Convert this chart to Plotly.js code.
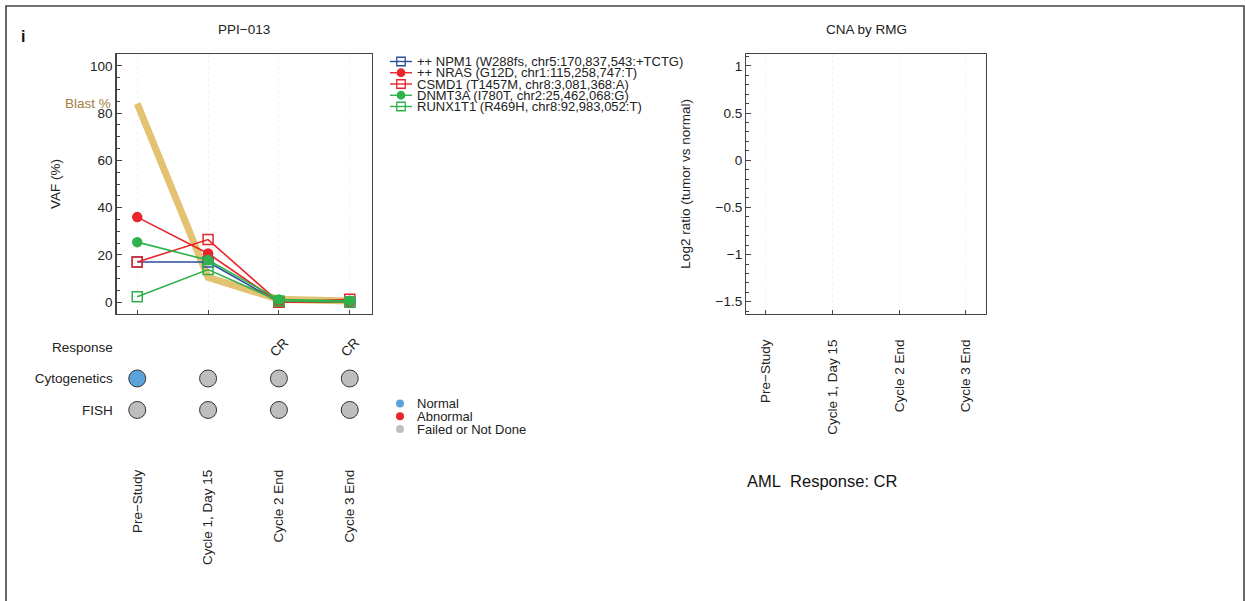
<!DOCTYPE html>
<html>
<head>
<meta charset="utf-8">
<script src="https://cdn.plot.ly/plotly-3.0.1.min.js"></script>
<style>html,body{margin:0;padding:0;background:#fff;}#chart{width:1245px;height:601px;}</style>
</head>
<body>
<div id="chart"></div>
<script>
// ---------- data ----------
const timepoints = ['Pre\u2212Study', 'Cycle 1, Day 15', 'Cycle 2 End', 'Cycle 3 End'];
const blastPct = [84, 10.5, 1.2, 0.5];
const geneNames = [
  '++ NPM1 (W288fs, chr5:170,837,543:+TCTG)',
  '++ NRAS (G12D, chr1:115,258,747:T)',
  'CSMD1 (T1457M, chr8:3,081,368:A)',
  'DNMT3A (I780T, chr2:25,462,068:G)',
  'RUNX1T1 (R469H, chr8:92,983,052:T)'
];
const vafNPM1 = [17, 17, 0, 0];
const vafNRAS = [36, 20.6, 0, 0];
const vafCSMD1 = [17, 26.5, 0, 1.2];
const vafDNMT3A = [25.4, 17.8, 1.1, 0.6];
const vafRUNX1T1 = [2.3, 13.8, 0.5, 0];
const responseRow = ['', '', 'CR', 'CR'];
const cytogenetics = ['Normal', 'Failed or Not Done', 'Failed or Not Done', 'Failed or Not Done'];
const fish = ['Failed or Not Done', 'Failed or Not Done', 'Failed or Not Done', 'Failed or Not Done'];
const statusLabels = ['Normal', 'Abnormal', 'Failed or Not Done'];
const rowLabels = ['Response', 'Cytogenetics', 'FISH'];
const log2Ticks = [-1.5, -1, -0.5, 0, 0.5, 1];

// ---------- styles ----------
const W = 1245, H = 601;
const FONT = 'Liberation Sans, Arial, sans-serif';
const TXT = '#222222';
const BLUE = '#2A4E9E', RED = '#E8262B', GREEN = '#2FB24A';
const geneVals = [vafNPM1, vafNRAS, vafCSMD1, vafDNMT3A, vafRUNX1T1];
const geneColors = [BLUE, RED, RED, GREEN, GREEN];
const geneSymbols = ['square-open', 'circle', 'square-open', 'circle', 'square-open'];
const geneSizes = [10, 9, 10, 9, 10];
const statusColors = {'Normal': '#5BA3DB', 'Abnormal': '#E8262B', 'Failed or Not Done': '#BEBEBE'};
const xIdx = timepoints.map((_, i) => i + 1);

const px = v => v / W;
const py = v => 1 - v / H;

const traces = [];
// blast line
traces.push({x: xIdx, y: blastPct, mode: 'lines', line: {color: '#E3C272', width: 7}, xaxis: 'x', yaxis: 'y', hoverinfo: 'y', showlegend: false});
// genes
geneVals.forEach((vals, i) => {
  traces.push({x: xIdx, y: vals, mode: 'lines+markers', name: geneNames[i],
    line: {color: geneColors[i], width: 1.6},
    marker: {symbol: geneSymbols[i], size: geneSizes[i], color: geneColors[i], line: {color: geneColors[i], width: 1.5}},
    xaxis: 'x', yaxis: 'y', showlegend: false});
});
// status rows
[cytogenetics, fish].forEach((row, r) => {
  traces.push({x: xIdx, y: xIdx.map(() => 2 - r), mode: 'markers',
    marker: {size: 17, color: row.map(s => statusColors[s]), line: {color: '#333', width: 1}},
    xaxis: 'x2', yaxis: 'y2', showlegend: false, hoverinfo: 'text', text: row});
});
// empty CNA panel
traces.push({x: [], y: [], mode: 'markers', xaxis: 'x3', yaxis: 'y3', showlegend: false});

// manual legends on pixel overlay axis
const legX0 = 390, legX1 = 412, legY0 = 61.5, legDY = 11.25;
const annotations = [];
geneNames.forEach((nm, i) => {
  const yy = legY0 + i * legDY;
  traces.push({x: [legX0, legX1], y: [yy, yy], mode: 'lines', line: {color: geneColors[i], width: 1.4}, xaxis: 'x4', yaxis: 'y4', hoverinfo: 'skip', showlegend: false});
  traces.push({x: [(legX0 + legX1) / 2], y: [yy], mode: 'markers', marker: {symbol: geneSymbols[i], size: geneSizes[i] - 1.5, color: geneColors[i], line: {color: geneColors[i], width: 1.3}}, xaxis: 'x4', yaxis: 'y4', hoverinfo: 'skip', showlegend: false});
  annotations.push({xref: 'x4', yref: 'y4', x: 416, y: yy, text: nm, showarrow: false, xanchor: 'left', yanchor: 'middle', borderpad: 0, font: {family: FONT, size: 13, color: TXT}});
});
const sx = 400, sy0 = 403.5, sdy = 12.75;
statusLabels.forEach((s, i) => {
  const yy = sy0 + i * sdy;
  traces.push({x: [sx], y: [yy], mode: 'markers', marker: {size: 8, color: statusColors[s]}, xaxis: 'x4', yaxis: 'y4', hoverinfo: 'skip', showlegend: false});
  annotations.push({xref: 'x4', yref: 'y4', x: 416, y: yy, text: s, showarrow: false, xanchor: 'left', yanchor: 'middle', borderpad: 0, font: {family: FONT, size: 13, color: TXT}});
});

// Response row texts
responseRow.forEach((t, i) => {
  if (t) annotations.push({xref: 'x2', yref: 'y2', x: i + 1, y: 3, text: t, showarrow: false, textangle: -45, font: {family: FONT, size: 13.5, color: TXT}});
});
// Blast % label
annotations.push({xref: 'paper', yref: 'y', x: px(113), y: blastPct[0], text: 'Blast %', showarrow: false, xanchor: 'right', yanchor: 'middle', font: {family: FONT, size: 13.5, color: '#A27E3E'}});
// titles
annotations.push({xref: 'paper', yref: 'paper', x: px(244), y: py(30), text: 'PPI\u2212013', showarrow: false, xanchor: 'center', yanchor: 'middle', font: {family: FONT, size: 13.5, color: TXT}});
annotations.push({xref: 'paper', yref: 'paper', x: px(866), y: py(30), text: 'CNA by RMG', showarrow: false, xanchor: 'center', yanchor: 'middle', font: {family: FONT, size: 13.5, color: TXT}});
annotations.push({xref: 'paper', yref: 'paper', x: px(19), y: py(37), text: '<b>i</b>', showarrow: false, xanchor: 'left', yanchor: 'middle', font: {family: FONT, size: 16, color: '#111'}});
annotations.push({xref: 'paper', yref: 'paper', x: px(745), y: py(481), text: 'AML\u00a0 Response: CR', showarrow: false, xanchor: 'left', yanchor: 'middle', font: {family: FONT, size: 16.5, color: '#111'}});

const axLine = {showline: true, linecolor: '#444', linewidth: 1.4, mirror: true, zeroline: false};
const tickFont = {family: FONT, size: 13.5, color: TXT};

const layout = {
  width: W, height: H,
  margin: {l: 0, r: 0, t: 0, b: 0},
  paper_bgcolor: '#fff', plot_bgcolor: 'rgba(0,0,0,0)',
  font: {family: FONT, color: TXT},
  showlegend: false,
  xaxis: Object.assign({}, axLine, {domain: [px(116.7), px(371.7)], range: [0.71, 4.31], anchor: 'y',
    tickvals: xIdx, showticklabels: false, ticks: 'inside', ticklen: 4, tickcolor: '#444',
    showgrid: true, gridcolor: '#f2f2f2', griddash: 'dot', gridwidth: 1}),
  yaxis: Object.assign({}, axLine, {domain: [py(314), py(54)], range: [-5, 105], anchor: 'x',
    tickvals: [0, 20, 40, 60, 80, 100], ticks: 'inside', ticklen: 5, tickcolor: '#444', tickfont: tickFont,
    minor: {dtick: 5, tick0: 0, ticks: 'inside', ticklen: 3, tickcolor: '#444', showgrid: false},
    showgrid: false, title: {text: 'VAF (%)', font: {family: FONT, size: 13.5, color: TXT}, standoff: 26}}),
  xaxis2: {domain: [px(116.7), px(371.7)], range: [0.71, 4.31], anchor: 'y2', tickvals: xIdx, ticktext: timepoints,
    tickangle: -90, ticks: '', showline: false, showgrid: false, zeroline: false, tickfont: tickFont},
  yaxis2: {domain: [py(466), py(330)], range: [-0.78, 3.54], anchor: 'x2', tickvals: [3, 2, 1], ticktext: rowLabels,
    ticks: '', showline: false, showgrid: false, zeroline: false, tickfont: tickFont, ticklabelstandoff: 3},
  xaxis3: Object.assign({}, axLine, {domain: [px(746.3), px(986)], range: [0.71, 4.3], anchor: 'y3', tickvals: xIdx, ticktext: timepoints,
    tickangle: -90, ticks: 'inside', ticklen: 4, tickcolor: '#444', tickfont: tickFont, ticklabelstandoff: 19,
    showgrid: true, gridcolor: '#f2f2f2', griddash: 'dot'}),
  yaxis3: Object.assign({}, axLine, {domain: [py(313.7), py(54)], range: [-1.627, 1.127], anchor: 'x3', tickvals: log2Ticks,
    ticks: 'inside', ticklen: 5, tickcolor: '#444', tickfont: tickFont,
    minor: {dtick: 0.1, tick0: 0, ticks: 'inside', ticklen: 3, tickcolor: '#444', showgrid: false},
    showgrid: false, title: {text: 'Log2 ratio (tumor vs normal)', font: {family: FONT, size: 13.5, color: TXT}, standoff: 22}}),
  xaxis4: {domain: [0, 1], range: [0, W], anchor: 'y4', visible: false, fixedrange: true},
  yaxis4: {domain: [0, 1], range: [H, 0], anchor: 'x4', visible: false, fixedrange: true},
  annotations: annotations,
  shapes: [{type: 'rect', xref: 'paper', yref: 'paper', x0: px(6), x1: px(1244), y0: -0.2, y1: py(6), line: {color: '#444', width: 1.6}, layer: 'below'}]
};

Plotly.newPlot('chart', traces, layout, {displayModeBar: false, staticPlot: true});
</script>
</body>
</html>
